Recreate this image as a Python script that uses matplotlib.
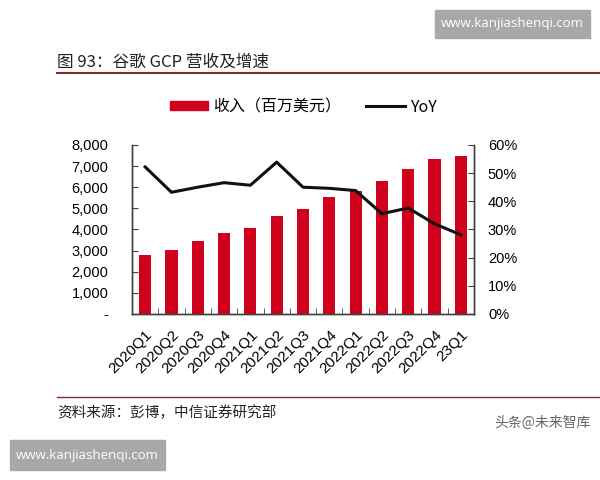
import matplotlib.pyplot as plt
from matplotlib.patches import Rectangle
from matplotlib.lines import Line2D
from matplotlib.ticker import FuncFormatter, MultipleLocator

plt.rcParams['font.family'] = ['Liberation Sans', 'Noto Sans CJK SC', 'DejaVu Sans']

quarters = ["2020Q1", "2020Q2", "2020Q3", "2020Q4", "2021Q1", "2021Q2", "2021Q3",
            "2021Q4", "2022Q1", "2022Q2", "2022Q3", "2022Q4", "23Q1"]
revenue = [2777, 3007, 3444, 3831, 4047, 4628, 4990, 5541, 5821, 6276, 6868, 7315, 7454]
yoy = [52.2, 43.2, 45.0, 46.6, 45.7, 53.9, 45.0, 44.6, 43.8, 35.6, 37.6, 32.0, 28.1]

red = '#d0021b'
axis_col = '#404040'
cjk = ['Noto Sans CJK SC', 'DejaVu Sans']

fig = plt.figure(figsize=(6, 4.8), dpi=100)
ax = fig.add_axes([0.22, 0.346, 0.57, 0.352])
ax2 = ax.twinx()

x = list(range(len(quarters)))
ax.bar(x, revenue, width=0.46, color=red, zorder=2)
ax2.plot(x, yoy, color='#111111', linewidth=2.2, zorder=3)

ax.set_xlim(-0.5, len(quarters) - 0.5)
ax.set_ylim(0, 8000)
ax2.set_ylim(0, 60)
ax.yaxis.set_major_locator(MultipleLocator(1000))
ax2.yaxis.set_major_locator(MultipleLocator(10))
ax.yaxis.set_major_formatter(FuncFormatter(lambda v, p: '-' if v == 0 else f'{v:,.0f}'))
ax2.yaxis.set_major_formatter(FuncFormatter(lambda v, p: f'{v:.0f}%'))

ax.set_xticks(x)
ax.set_xticklabels(quarters, rotation=45, ha='right', rotation_mode='anchor', fontsize=11)
ax.set_xticks([i - 0.5 for i in range(len(quarters) + 1)], minor=True)
ax.tick_params(axis='x', which='major', length=0, pad=10)
ax.tick_params(axis='x', which='minor', direction='in', length=4, color=axis_col)
ax.tick_params(axis='y', direction='in', length=4, color=axis_col, labelsize=10.5, pad=17)
ax2.tick_params(axis='y', direction='in', length=4, color=axis_col, labelsize=10.5, pad=10)

for a in (ax, ax2):
    a.spines['top'].set_visible(False)
    for s in ('left', 'right', 'bottom'):
        a.spines[s].set_color(axis_col)
        a.spines[s].set_linewidth(1.0)

# legend
handles = [Rectangle((0, 0), 1, 1, color=red), Line2D([0], [0], color='#111111', linewidth=2.2)]
fig.legend(handles, ['收入（百万美元）', 'YoY'], loc='center', bbox_to_anchor=(0.505, 0.777),
           ncol=2, frameon=False, handlelength=2.4, handleheight=0.5, handletextpad=0.3,
           columnspacing=1.6, prop={'family': cjk, 'size': 11.5})

# title and rules
fig.text(0.095, 0.870, '图 93：谷歌 GCP 营收及增速', fontsize=12, color='#222222',
         family=cjk, va='center')
fig.add_artist(Line2D([0.095, 1.0], [0.848, 0.848], color='#7a3030', linewidth=1.5))
fig.add_artist(Line2D([0.095, 1.0], [0.173, 0.173], color='#7a3030', linewidth=1.0))
fig.text(0.095, 0.140, '资料来源：彭博，中信证券研究部', fontsize=10.5, color='#222222',
         family=cjk, va='center')
fig.text(0.985, 0.120, '头条@未来智库', fontsize=10, color='#666666', ha='right',
         family=cjk, va='center')

# watermark boxes
fig.add_artist(Rectangle((435 / 600, 1 - 38 / 480), 155 / 600, 28 / 480, color='#a8a8a8',
                         transform=fig.transFigure))
fig.text(512 / 600, 1 - 24 / 480, 'www.kanjiashenqi.com', color='white', fontsize=9.5,
         ha='center', va='center', family='Open Sans')
fig.add_artist(Rectangle((10 / 600, 1 - 470 / 480), 155 / 600, 30 / 480, color='#a8a8a8',
                         transform=fig.transFigure))
fig.text(87 / 600, 1 - 455 / 480, 'www.kanjiashenqi.com', color='white', fontsize=9.5,
         ha='center', va='center', family='Open Sans')

fig.savefig('out.png', dpi=100, facecolor='white')
